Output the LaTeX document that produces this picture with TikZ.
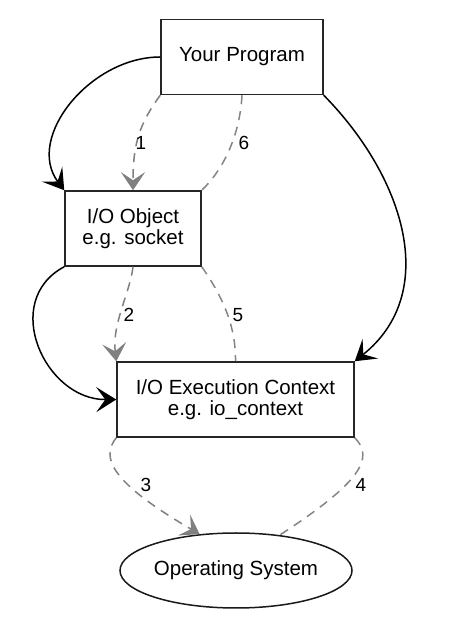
\documentclass[tikz,border=0pt]{standalone}
\usepackage{fontspec}
\setmainfont{Liberation Sans}
\usetikzlibrary{arrows.meta,shapes.geometric}
\begin{document}
\begin{tikzpicture}[x=1pt,y=1pt,
  box/.style={draw=black!85, line width=1.5pt, rectangle, inner sep=0pt, minimum height=75pt, align=center, font=\fontsize{20.5}{21}\selectfont},
  oval/.style={draw=black!90, line width=1.5pt, ellipse, inner sep=0pt, minimum width=232pt, minimum height=75pt, font=\fontsize{20.5}{21}\selectfont},
  solidarrow/.style={draw=black, line width=1.5pt, -{Stealth[length=20pt,width=25pt,inset=9pt]}},
  dashedarrow/.style={draw=black!50, line width=1.5pt, dash pattern=on 9pt off 7pt, -{Stealth[length=18pt,width=24pt,inset=8pt]}},
  dashedline/.style={draw=black!48, line width=1.5pt, dash pattern=on 9pt off 7pt},
  lbl/.style={inner sep=0pt, font=\fontsize{19}{19}\selectfont}
]
\useasboundingbox (0,0) rectangle (451,623);
\fill[white] (0,0) rectangle (451,623);

\node[box, minimum width=162pt] (yp) at (242,566) {Your Program};
\node[box, minimum width=136pt] (io) at (133,394.5) {I/O Object\\e.g. socket};
\node[box, minimum width=237pt] (ctx) at (235.5,223.5) {I/O Execution Context\\e.g. io\_context};
\node[oval] (os) at (236,52.5) {Operating System};

% solid black connectors
\draw[solidarrow] (yp.west) .. controls (90,566) and (25,485) .. (io.north west);
\draw[solidarrow] (yp.south east) .. controls (405,445) and (440,330) .. (ctx.north east);
\draw[solidarrow] (io.south west) .. controls (0,322) and (45,223) .. (ctx.west);

% dashed gray connectors
\draw[dashedarrow] (yp.south west) .. controls (140,500) and (133,480) .. (io.north);
\draw[dashedline] (yp.south) .. controls (240,490) and (225,455) .. (io.north east);
\draw[dashedarrow] (io.south) .. controls (130,330) and (112,300) .. (ctx.north west);
\draw[dashedline] (io.south east) .. controls (220,330) and (236,300) .. (ctx.north);
\draw[dashedarrow] (ctx.south west) .. controls (100,165) and (112,140) .. (os.135);
\draw[dashedline] (ctx.south east) .. controls (375,165) and (360,140) .. (os.39);

% labels
\node[lbl] (l1) at (141,480) {1};
\node[lbl] (l6) at (244,480) {6};
\node[lbl] (l2) at (129,308) {2};
\node[lbl] (l5) at (238,308) {5};
\node[lbl] (l3) at (146,138) {3};
\node[lbl] (l4) at (361,138) {4};
\end{tikzpicture}
\end{document}
